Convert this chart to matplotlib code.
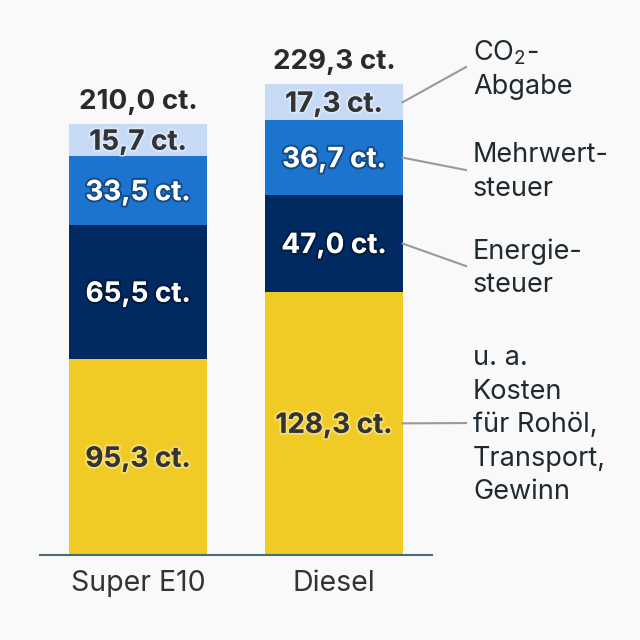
import matplotlib.pyplot as plt
import matplotlib.patheffects as pe

plt.rcParams['font.family'] = ['Inter', 'DejaVu Sans']
plt.rcParams['mathtext.fontset'] = 'custom'
plt.rcParams['mathtext.rm'] = 'Inter'

# data (cent per litre)
categories = ['Super E10', 'Diesel']
kosten = [95.3, 128.3]
energiesteuer = [65.5, 47.0]
mehrwertsteuer = [33.5, 36.7]
co2_abgabe = [15.7, 17.3]
totals = [210.0, 229.3]

segments = [kosten, energiesteuer, mehrwertsteuer, co2_abgabe]
colors = ['#F0CB26', '#012A62', '#1C74CF', '#C6DAF5']
text_cols = ['#333333', 'white', 'white', '#333333']
legend_labels = ['u. a.\nKosten\nfür Rohöl,\nTransport,\nGewinn',
                 'Energie-\nsteuer',
                 'Mehrwert-\nsteuer',
                 'CO$_2$-\nAbgabe']
# where the labels on the right sit (in data units)
legend_y = [64.3, 140.8, 187.6, 237.8]

def fmt(v):
    return '{:.1f} ct.'.format(v).replace('.', ',', 1)

bg = '#F9F9F9'
fig = plt.figure(figsize=(6.4, 6.4), dpi=100, facecolor=bg)
ax = fig.add_axes([40/640, 85/640, 392/640, 513/640])
ax.set_facecolor(bg)

x = range(len(categories))
bottom = [0, 0]
w = 0.7
for seg, col, tc in zip(segments, colors, text_cols):
    ax.bar(x, seg, w, bottom=bottom, color=col)
    for i in x:
        if tc == 'white':
            eff = [pe.withStroke(linewidth=3, foreground='#00000055')]
        else:
            eff = [pe.withStroke(linewidth=3, foreground='#ffffff55')]
        ax.text(i, bottom[i] + seg[i] / 2 - 1.2, fmt(seg[i]), ha='center', va='center',
                fontsize=20, fontweight='bold', color=tc, path_effects=eff)
    bottom = [b + s for b, s in zip(bottom, seg)]

for i in x:
    ax.text(i, totals[i] + 11, fmt(totals[i]), ha='center', va='center',
            fontsize=20, fontweight='bold', color='#2a2a2a')

# connector lines from the diesel bar to the labels
starts = []
b = 0
for seg in segments:
    starts.append(b + seg[1] / 2)
    b += seg[1]
x0 = 1 + w / 2
x1 = (466 - 138) / 196
xt = (473 - 138) / 196
for s, ly, lab in zip(starts, legend_y, legend_labels):
    ax.plot([x0, x1], [s, ly], color='#999999', lw=1.5, clip_on=False)
    ax.text(xt, ly - 1, lab, ha='left', va='center', fontsize=19.5,
            color='#1f2a30', linespacing=1.38, clip_on=False)

ax.set_xlim(-0.5, 1.5)
ax.set_ylim(0, 250)
ax.set_xticks(list(x))
ax.set_xticklabels(categories, fontsize=20.5, color='#333333')
ax.tick_params(axis='x', length=0, pad=11)
ax.set_yticks([])
for sp in ['top', 'right', 'left']:
    ax.spines[sp].set_visible(False)
ax.spines['bottom'].set_color('#4C6B7A')
ax.spines['bottom'].set_linewidth(1.5)

fig.savefig('out.png', dpi=100, facecolor=bg)
